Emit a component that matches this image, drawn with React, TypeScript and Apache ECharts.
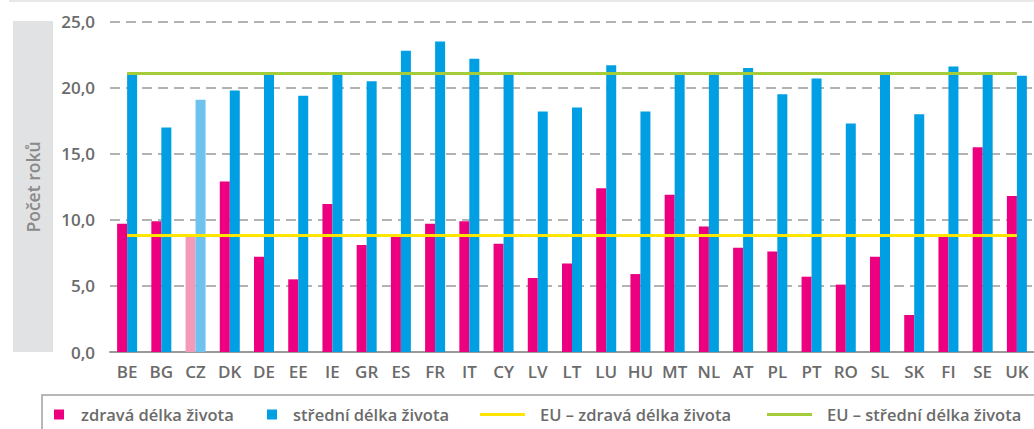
import React, { useEffect, useRef } from "react";
import * as echarts from "echarts";

const categories = ["BE","BG","CZ","DK","DE","EE","IE","GR","ES","FR","IT","CY","LV","LT","LU","HU","MT","NL","AT","PL","PT","RO","SL","SK","FI","SE","UK"];
const healthyYears = [9.7,9.9,8.8,12.9,7.2,5.5,11.2,8.1,8.9,9.7,9.9,8.2,5.6,6.7,12.4,5.9,11.9,9.5,7.9,7.6,5.7,5.1,7.2,2.8,8.9,15.5,11.8];
const lifeYears = [21.1,17.0,19.1,19.8,21.0,19.4,21.2,20.5,22.8,23.5,22.2,21.0,18.2,18.5,21.7,18.2,21.2,21.0,21.5,19.5,20.7,17.3,21.0,18.0,21.6,21.2,20.9];
const euHealthy = 8.8;
const euLife = 21.1;
const highlight = "CZ";

const seriesNames = ["zdravá délka života", "střední délka života", "EU – zdravá délka života", "EU – střední délka života"];
const axisTitle = "Počet roků";

const PINK = "#EC0080";
const PINK_LIGHT = "#F39AB9";
const BLUE = "#009FE3";
const BLUE_LIGHT = "#6EC3EE";
const YELLOW = "#FFE500";
const GREEN = "#A5CD39";
const TEXT = "#6b6b6b";
const FONT = "'Open Sans', sans-serif";

export default function App() {
  const ref = useRef<HTMLDivElement>(null);
  useEffect(() => {
    if (!ref.current) return;
    const chart = echarts.init(ref.current, undefined, { renderer: "svg" });
    const legendBase = {
      top: 406,
      padding: 0,
      icon: "rect",
      selectedMode: false,
      textStyle: { color: TEXT, fontSize: 16.5, fontFamily: FONT, fontWeight: 600 },
    };
    chart.setOption({
      animation: false,
      textStyle: { fontFamily: FONT },
      grid: { left: 110, right: 0, top: 21.7, bottom: 77, containLabel: false },
      graphic: [
        { type: "rect", shape: { x: 9, y: 0, width: 1025, height: 2 }, style: { fill: "#e8e8e8" }, silent: true },
        { type: "rect", shape: { x: 13, y: 21, width: 40, height: 331 }, style: { fill: "#E1E2E4" }, silent: true, z: -1 },
        {
          type: "text",
          x: 33,
          y: 187,
          rotation: Math.PI / 2,
          style: { text: axisTitle, fill: "#8a8a8a", fontSize: 17.5, fontWeight: 600, fontFamily: FONT, align: "center", verticalAlign: "middle" },
          silent: true,
        },
        { type: "rect", shape: { x: 42, y: 395, width: 1010, height: 50 }, style: { fill: "none", stroke: "#a0a0a0", lineWidth: 1.5 }, silent: true },
      ],
      legend: [
        { ...legendBase, left: 54, data: [seriesNames[0]], itemWidth: 10, itemHeight: 10, textStyle: { ...legendBase.textStyle, padding: [0, 0, 0, 12] } },
        { ...legendBase, left: 267, data: [seriesNames[1]], itemWidth: 10, itemHeight: 10, textStyle: { ...legendBase.textStyle, padding: [0, 0, 0, 11] } },
        { ...legendBase, left: 480, data: [seriesNames[2]], itemWidth: 45, itemHeight: 3, textStyle: { ...legendBase.textStyle, padding: [0, 0, 0, 10] } },
        { ...legendBase, left: 767, data: [seriesNames[3]], itemWidth: 45, itemHeight: 3, textStyle: { ...legendBase.textStyle, padding: [0, 0, 0, 10] } },
      ],
      xAxis: {
        type: "category",
        data: categories,
        axisLine: { lineStyle: { color: "#999", width: 2 } },
        axisTick: { show: false },
        axisLabel: { color: TEXT, fontSize: 17, fontWeight: 600, fontFamily: FONT, margin: 11 },
      },
      yAxis: {
        type: "value",
        min: 0,
        max: 25,
        interval: 5,
        axisLine: { show: false },
        axisTick: { show: false },
        axisLabel: {
          color: TEXT,
          fontSize: 17,
          fontWeight: 600,
          fontFamily: FONT,
          margin: 15,
          formatter: (v: number) => v.toFixed(1).replace(".", ","),
        },
        splitLine: { lineStyle: { color: "#9a9a9a", width: 1.5, type: [10, 6] } },
      },
      series: [
        {
          name: seriesNames[0],
          type: "bar",
          barWidth: 10,
          barGap: "0%",
          itemStyle: { color: PINK },
          data: healthyYears.map((v, i) => (categories[i] === highlight ? { value: v, itemStyle: { color: PINK_LIGHT } } : v)),
        },
        {
          name: seriesNames[1],
          type: "bar",
          barWidth: 10,
          barGap: "0%",
          itemStyle: { color: BLUE },
          data: lifeYears.map((v, i) => (categories[i] === highlight ? { value: v, itemStyle: { color: BLUE_LIGHT } } : v)),
        },
        {
          name: seriesNames[2],
          type: "line",
          data: [],
          itemStyle: { color: YELLOW },
          lineStyle: { color: YELLOW, width: 3 },
          markLine: {
            silent: true,
            symbol: "none",
            label: { show: false },
            lineStyle: { color: YELLOW, width: 3, type: "solid" },
            data: [[{ coord: [categories[0], euHealthy] }, { coord: [categories[categories.length - 1], euHealthy] }]],
          },
          z: 5,
        },
        {
          name: seriesNames[3],
          type: "line",
          data: [],
          itemStyle: { color: GREEN },
          lineStyle: { color: GREEN, width: 3 },
          markLine: {
            silent: true,
            symbol: "none",
            label: { show: false },
            lineStyle: { color: GREEN, width: 3, type: "solid" },
            data: [[{ coord: [categories[0], euLife] }, { coord: [categories[categories.length - 1], euLife] }]],
          },
          z: 5,
        },
      ],
    });
    return () => chart.dispose();
  }, []);
  return <div ref={ref} style={{ width: 1034, height: 429, position: "absolute", left: 0, top: 0 }} />;
}
